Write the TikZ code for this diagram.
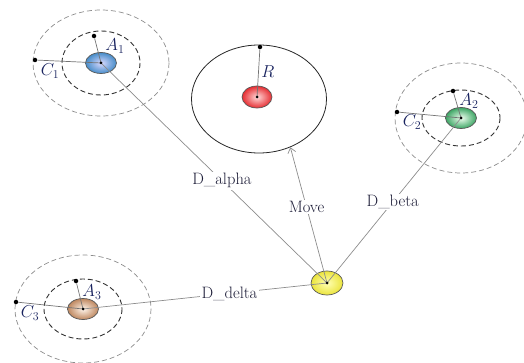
\documentclass[tikz,border=0pt]{standalone}
\usetikzlibrary{shapes.geometric,arrows.meta}
\definecolor{txt}{RGB}{28,28,55}
\definecolor{lbl}{RGB}{25,35,95}
\begin{document}
\begin{tikzpicture}[x=1pt,y=-1pt,font=\fontsize{16.5}{19}\selectfont]
\useasboundingbox (0,0) rectangle (524,363);
\tikzset{
 outerring/.style={draw=black!45, dashed, dash pattern=on 5pt off 3pt, line width=0.7pt},
 innerring/.style={draw=black!80, dashed, dash pattern=on 5pt off 3pt, line width=0.9pt},
 link/.style={draw=black!45, line width=0.7pt},
 radline/.style={draw=black!55, line width=0.7pt},
 dotpt/.style={circle, fill=black, inner sep=0pt, minimum size=4.5pt},
 cdot/.style={circle, fill=black, inner sep=0pt, minimum size=3pt},
 blob/.style={ellipse, draw=black!65, line width=0.7pt, inner sep=0pt, minimum width=31pt, minimum height=21pt},
 tag/.style={text=lbl, inner sep=1pt, font=\fontsize{17}{19}\selectfont},
 edgelabel/.style={fill=white, text=txt, inner sep=1.5pt},
}
% agents
\node[blob, inner color=blue!15, outer color={rgb,255:red,70;green,140;blue,200}] (A1) at (101,63) {};
\node[blob, inner color=green!6, outer color={rgb,255:red,60;green,165;blue,100}] (A2) at (461,118) {};
\node[blob, inner color=orange!8, outer color={rgb,255:red,190;green,135;blue,95}] (A3) at (83,309) {};
\node[blob, minimum width=30pt, minimum height=22pt, inner color=red!15, outer color={rgb,255:red,230;green,45;blue,50}] (R) at (257,97) {};
\node[blob, minimum width=32pt, minimum height=24pt, inner color=yellow!30, outer color={rgb,255:red,235;green,228;blue,60}] (Y) at (327,283) {};
% big circle
\node[ellipse, draw=black!85, line width=0.8pt, minimum width=135pt, minimum height=108pt, inner sep=0pt] (Rbig) at (259,99) {};
% rings
\draw[innerring] (A1.center) ellipse [x radius=39, y radius=32];
\draw[outerring] (A1.center) ellipse [x radius=68, y radius=53];
\draw[innerring] (A2.center) ellipse [x radius=39, y radius=28];
\draw[outerring] (A2.center) ellipse [x radius=66, y radius=55];
\draw[innerring] (A3.center) ellipse [x radius=39, y radius=30];
\draw[outerring] (A3.center) ellipse [x radius=68, y radius=54];
% radius points
\node[dotpt] (a1t) at (94,36) {};
\node[dotpt] (c1l) at (35,60) {};
\node[dotpt] (a2t) at (453,91) {};
\node[dotpt] (c2l) at (397,112) {};
\node[dotpt] (a3t) at (76,281) {};
\node[dotpt] (c3l) at (16,302) {};
\node[dotpt] (rt) at (260,47) {};
\draw[radline] (A1.center) -- (a1t);
\draw[radline] (A1.center) -- (c1l);
\draw[radline] (A2.center) -- (a2t);
\draw[radline] (A2.center) -- (c2l);
\draw[radline] (A3.center) -- (a3t);
\draw[radline] (A3.center) -- (c3l);
\draw[radline] (R.center) -- (rt);
% links
\draw[link] (A1.center) -- node[edgelabel, pos=0.535] (la) {D\_alpha} (Y.center);
\draw[link] (A2.center) -- node[edgelabel, pos=0.51] (lb) {D\_beta} (Y.center);
\draw[link] (A3.center) -- node[edgelabel, pos=0.6] (ld) {D\_delta} (Y.center);
\draw[link, -{Straight Barb[length=5pt,width=8pt]}] (Y.center) -- node[edgelabel, pos=0.56] (lm) {Move} (Rbig.-57);
% center dots
\foreach \n in {A1,A2,A3,R,Y} \node[cdot] at (\n.center) {};
% labels
\node[tag] (tA1) at (115,46) {$A_1$};
\node[tag] (tC1) at (50,71) {$C_1$};
\node[tag] (tA2) at (469,101) {$A_2$};
\node[tag] (tC2) at (412,122) {$C_2$};
\node[tag] (tA3) at (92,292) {$A_3$};
\node[tag] (tC3) at (30,313) {$C_3$};
\node[tag] (tR) at (268,72) {$R$};
\end{tikzpicture}
\end{document}
